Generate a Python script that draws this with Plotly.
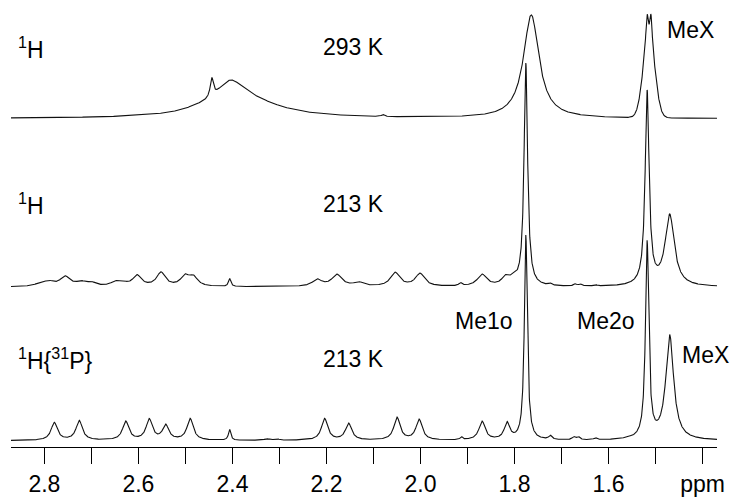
import numpy as np
import plotly.graph_objects as go

# ---------------- data ----------------
# chemical-shift axis ticks
TICK_VALUES = [2.8, 2.6, 2.4, 2.2, 2.0, 1.8, 1.6, 1.4]
TICK_LABELS = ["2.8", "2.6", "2.4", "2.2", "2.0", "1.8", "1.6", "ppm"]
MINOR_STEP = 0.1

# top spectrum: 1H, 293 K  (peak position ppm, height, half width ppm, shape)
TOP_PPM    = [2.444, 2.405, 2.370, 2.470, 2.080, 1.7645, 1.514, 1.5183, 1.5098]
TOP_HEIGHT = [19,    23,    17,    3,     2,     105,    88,    22,     22]
TOP_HWHM   = [0.004, 0.035, 0.090, 0.050, 0.004, 0.020,  0.0141, 0.0026, 0.0026]
TOP_SHAPE  = ["L",   "L",   "L",   "L",   "L",   "L",    "G",   "G",    "G"]

# middle spectrum: 1H, 213 K
MID_PPM    = [2.808, 2.790, 2.756, 2.722, 2.700, 2.650, 2.634, 2.603, 2.552, 2.501, 2.483,
              2.406, 2.220, 2.178, 2.132, 2.054, 2.001, 1.915, 1.869, 1.820, 1.803,
              1.776, 1.724, 1.671, 1.660, 1.628, 1.518, 1.470]
MID_HEIGHT = [3, 4, 10, 4, 3.5, 4, 3.5, 11, 14, 10, 9,
              8, 7, 12, 4, 14, 13, 3, 12, 8, 6,
              226, 2, 2, 2, 1.5, 196, 72]
MID_HWHM   = [0.014, 0.012, 0.013, 0.012, 0.012, 0.011, 0.011, 0.011, 0.011, 0.011, 0.011,
              0.003, 0.012, 0.013, 0.012, 0.012, 0.012, 0.004, 0.012, 0.009, 0.009,
              0.0045, 0.004, 0.004, 0.004, 0.004, 0.005, 0.0117]

# bottom spectrum: 1H{31P}, 213 K
BOT_PPM    = [2.779, 2.726, 2.627, 2.577, 2.542, 2.490, 2.406, 2.327, 2.306, 2.204, 2.153,
              2.050, 2.003, 1.913, 1.869, 1.816, 1.776, 1.724, 1.674, 1.664, 1.628, 1.560,
              1.518, 1.470]
BOT_HEIGHT = [18, 20, 19, 21, 15, 22, 11, 1.5, 1.5, 22, 17,
              23, 21, 3, 19, 17, 208, 4, 3, 3, 2, 1.5,
              199, 106]
BOT_HWHM   = [0.008, 0.008, 0.008, 0.008, 0.008, 0.008, 0.003, 0.006, 0.006, 0.008, 0.008,
              0.008, 0.008, 0.003, 0.008, 0.007, 0.0038, 0.004, 0.004, 0.004, 0.004, 0.005,
              0.0042, 0.010]

# ---------------- layout constants ----------------
W, H = 730, 497
ML, MR, MT, MB = 11, 13, 0, 43
X_RANGE = [2.871, 1.3694]
PLOT_H = H - MT - MB
PLOT_W = W - ML - MR
BASE_TOP, BASE_MID, BASE_BOT = 454 - 120.5, 454 - 291.5, 454 - 447.5

FONT = "Liberation Sans, Arial, Helvetica, sans-serif"
FS = 23


def spectrum(grid, ppm, height, hwhm, shape=None):
    y = np.zeros_like(grid)
    for i, (c, h, w) in enumerate(zip(ppm, height, hwhm)):
        d = grid - c
        if shape is not None and shape[i] == "G":
            y += h * np.exp(-np.log(2) * d * d / (w * w))
        else:
            y += h * w * w / (d * d + w * w)
    return y


grid = np.linspace(X_RANGE[0], X_RANGE[1], 4000)

fig = go.Figure()
for ppm, hh, ww, sh, base in [
    (TOP_PPM, TOP_HEIGHT, TOP_HWHM, TOP_SHAPE, BASE_TOP),
    (MID_PPM, MID_HEIGHT, MID_HWHM, None, BASE_MID),
    (BOT_PPM, BOT_HEIGHT, BOT_HWHM, None, BASE_BOT),
]:
    fig.add_trace(go.Scatter(
        x=grid, y=base + spectrum(grid, ppm, hh, ww, sh),
        mode="lines", line=dict(color="#111111", width=1.1),
        hoverinfo="skip", showlegend=False))


def px(x):
    return (x - ML) / PLOT_W


def py(y):
    return (MT + PLOT_H - y) / PLOT_H


labels = [
    ("<sup>1</sup>H", 16, 49, "left"),
    ("293 K", 353.5, 48, "center"),
    ("MeX", 665, 30, "left"),
    ("<sup>1</sup>H", 16, 207, "left"),
    ("213 K", 353.5, 207, "center"),
    ("<sup>1</sup>H{<sup>31</sup>P}", 16, 365, "left"),
    ("213 K", 353.5, 365, "center"),
    ("Me1o", 483.5, 326, "center"),
    ("Me2o", 605.5, 326, "center"),
    ("MeX", 680, 361, "left"),
]
for text, x, y, anc in labels:
    fig.add_annotation(text=text, x=px(x), y=py(y), xref="paper", yref="paper",
                       xanchor=anc, yanchor="middle", showarrow=False,
                       font=dict(family=FONT, size=FS, color="black"))

fig.update_layout(
    width=W, height=H, margin=dict(l=ML, r=MR, t=MT, b=MB, pad=0),
    paper_bgcolor="white", plot_bgcolor="white",
    xaxis=dict(range=X_RANGE, showgrid=False, zeroline=False,
               showline=True, linecolor="black", linewidth=1,
               ticks="outside", ticklen=16, tickwidth=1, tickcolor="black",
               tickvals=TICK_VALUES, ticktext=TICK_LABELS,
               tickfont=dict(family=FONT, size=FS, color="black"),
               minor=dict(ticks="outside", ticklen=16, tickwidth=1, tickcolor="black",
                          tick0=0, dtick=MINOR_STEP, showgrid=False)),
    yaxis=dict(visible=False, range=[0, PLOT_H], fixedrange=True),
)

fig.write_html("out.html")
